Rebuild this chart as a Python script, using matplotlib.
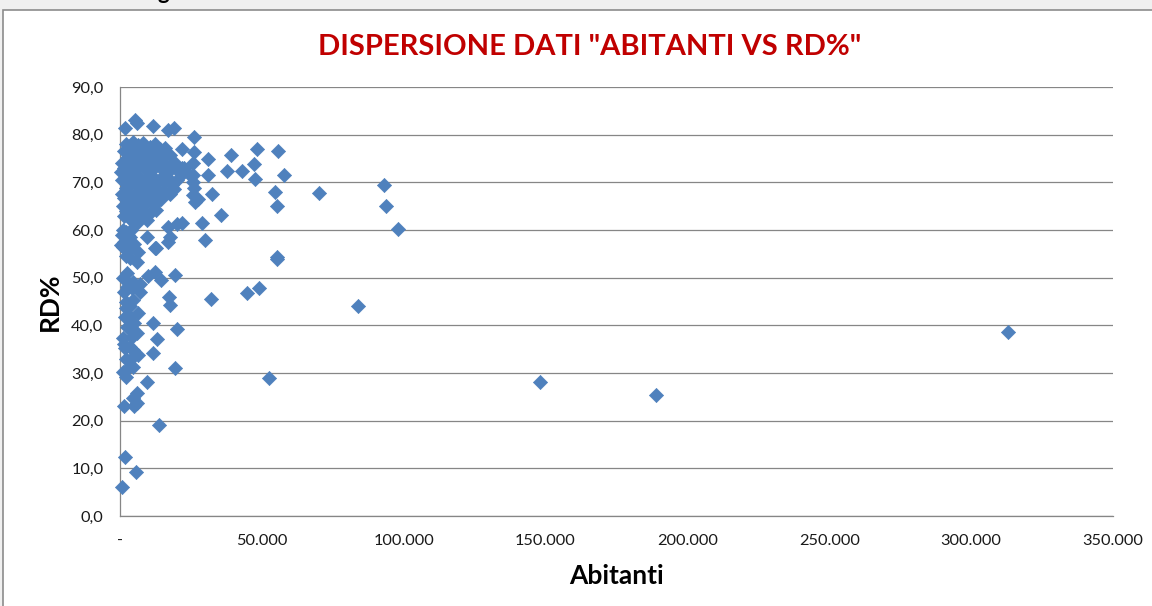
import matplotlib
matplotlib.use("Agg")
import matplotlib.pyplot as plt
from matplotlib.patches import Rectangle

# ---- data (inhabitants, RD%) ----
abitanti_k = [
    # outliers / sparse right part
    313.0, 189.0, 148.0, 83.8, 97.9, 93.0, 93.7, 70.1, 57.7, 55.6, 55.3, 54.6, 55.3,
    52.5, 48.9, 44.7, 48.2, 47.2, 47.5, 43.0, 39.1, 37.7, 35.6, 32.0, 32.4, 31.0,
    31.0, 29.9, 28.9, 26.1, 26.1, 25.7, 25.7, 26.1, 25.7, 26.4, 25.7, 21.8, 21.8,
    22.2, 21.8, 20.1, 19.4, 20.1, 19.4, 19.0, 16.9, 11.6, 5.3, 1.8, 6.0, 16.9, 17.6,
    12.3, 9.5, 2.8, 1.1, 1.8, 55.3, 27.5,
    # lower left
    0.6, 5.6, 1.8, 13.7, 1.4, 6.0, 6.0, 4.6, 9.5, 2.8, 2.1, 4.6, 1.1, 6.3, 11.6,
    4.6, 1.8, 1.1, 4.2, 13.0, 6.0, 2.5, 11.6, 1.8, 6.3, 2.1, 17.6, 17.3, 4.6, 1.4,
    7.0, 4.2, 2.5, 9.9, 12.3, 14.4, 4.6, 7.0, 6.3, 12.7, 16.9, 1.1, 3.5, 6.0,
    1.5, 3.0, 2.0, 3.5, 1.0, 2.5, 3.8, 5.0, 2.0, 4.0, 5.0, 3.6,
    0.8, 2.2, 4.0, 1.5, 3.0, 0.5, 2.0, 5.0, 3.5,
    # dense cluster
    2.0, 4.5, 6.5, 8.0, 10.5, 12.5, 14.0, 3.0, 9.0, 16.0,
    1.5, 3.5, 5.5, 7.0, 8.5, 10.0, 11.5, 13.0, 14.5, 2.5, 6.0, 15.5, 17.5,
    0.8, 1.5, 2.8, 4.0, 5.0, 6.5, 7.8, 9.0, 10.5, 12.0, 13.5, 15.0, 16.5, 18.0,
    19.5, 21.0, 22.5, 24.0, 0.5, 3.3,
    0.8, 1.8, 3.0, 4.2, 5.5, 6.8, 8.0, 9.5, 11.0, 12.5, 14.0, 15.5, 17.0, 18.5,
    20.0, 2.2, 7.2, 10.2, 13.2,
    0.6, 1.5, 2.8, 4.0, 5.2, 6.5, 7.8, 9.0, 10.5, 11.8, 13.0, 14.5, 16.0, 17.5,
    19.0, 3.5, 8.5, 12.2,
    1.0, 2.0, 1.5, 3.0, 4.5, 5.8, 7.0, 8.2, 9.5, 11.0, 12.8, 6.0, 3.8,
]
rd_pct = [
    38.6, 25.4, 28.1, 44.1, 60.2, 69.4, 65.0, 67.8, 71.5, 76.6, 65.0, 68.0, 53.9,
    29.0, 47.8, 46.8, 77.0, 73.8, 70.7, 72.4, 75.7, 72.4, 63.1, 45.5, 67.5, 74.9,
    71.5, 57.9, 61.5, 79.5, 76.4, 74.0, 71.5, 68.8, 67.3, 65.9, 70.1, 77.0, 73.0,
    72.0, 61.5, 61.3, 31.0, 39.2, 50.6, 81.4, 81.0, 81.8, 83.1, 81.4, 82.4, 60.6, 58.5,
    56.2, 58.5, 58.9, 60.0, 56.4, 54.3, 66.5,
    6.1, 9.2, 12.4, 19.1, 23.1, 23.7, 25.8, 24.8, 28.1, 31.0, 29.2, 31.3, 30.2, 33.8, 34.2,
    34.8, 35.2, 37.3, 37.6, 37.1, 38.4, 39.6, 40.5, 41.7, 42.6, 43.6, 44.3, 45.9, 45.3, 47.0,
    47.0, 47.8, 51.0, 50.3, 51.2, 49.5, 49.1, 48.7, 55.4, 56.2, 57.5, 56.4, 54.1, 53.3,
    36.0, 42.0, 45.0, 44.0, 50.0, 48.0, 39.0, 40.5, 33.0, 33.0, 23.0, 35.5,
    59.0, 59.5, 60.0, 57.5, 56.0, 56.8, 54.5, 57.0, 58.5,
    78.0, 78.5, 77.8, 78.2, 77.5, 78.0, 77.0, 77.5, 76.8, 77.2,
    76.5, 76.8, 75.5, 76.2, 75.0, 76.0, 75.5, 76.5, 75.0, 75.2, 77.0, 76.8, 75.8,
    74.0, 73.0, 73.8, 74.2, 72.8, 73.5, 74.0, 72.5, 73.8, 73.0, 74.0, 72.5, 73.5, 72.8,
    74.0, 72.0, 73.0, 72.0, 72.2, 72.0,
    70.5, 71.0, 69.5, 70.8, 69.8, 71.2, 69.5, 70.5, 71.5, 69.8, 70.8, 70.0, 71.0, 69.5,
    70.5, 68.8, 68.5, 69.0, 68.5,
    67.5, 66.8, 67.8, 66.2, 67.5, 66.0, 67.2, 66.5, 67.8, 66.2, 67.0, 66.5, 68.0, 67.5,
    68.5, 65.5, 65.2, 65.5,
    65.0, 64.0, 63.0, 63.5, 64.5, 63.0, 62.5, 64.0, 62.0, 63.8, 64.2, 61.5, 62.0,
]
abitanti = [v * 1000 for v in abitanti_k]

x_ticks = [0, 50000, 100000, 150000, 200000, 250000, 300000, 350000]
x_tick_labels = ["-", "50.000", "100.000", "150.000", "200.000", "250.000", "300.000", "350.000"]
y_ticks = [0, 10, 20, 30, 40, 50, 60, 70, 80, 90]
y_tick_labels = ["0,0", "10,0", "20,0", "30,0", "40,0", "50,0", "60,0", "70,0", "80,0", "90,0"]

title = 'DISPERSIONE DATI "ABITANTI VS RD%"'
x_label = "Abitanti"
y_label = "RD%"

FONT = ["Lato", "DejaVu Sans"]
plt.rcParams["font.family"] = FONT

W, H = 1152, 606
fig = plt.figure(figsize=(W / 100, H / 100), dpi=100)
fig.patch.set_facecolor("#f0f0f0")

# chart frame (drawn beneath the axes)
frame = Rectangle((3 / W, -0.05), 1.2, 1 - 10 / H + 0.05, transform=fig.transFigure,
                  facecolor="white", edgecolor="#8c8c8c", linewidth=1.2, zorder=-10)
fig.patches.append(frame)
# cut-off heading character at the very top (as in the reference)
fig.text(163 / W, 1 + 1 / H, "g", fontsize=16, fontweight="bold", color="black",
         ha="center", va="baseline")

ax = fig.add_axes([120 / W, 1 - 516 / H, (1113 - 120) / W, (516 - 87) / H])
ax.set_zorder(1)
ax.set_facecolor("white")
ax.scatter(abitanti, rd_pct, marker="D", s=52, color="#4F81BD",
           edgecolors="#4F81BD", linewidths=0.5, zorder=3, clip_on=False)

ax.set_xlim(0, 350000)
ax.set_ylim(0, 90)
ax.set_xticks(x_ticks)
ax.set_xticklabels(x_tick_labels)
ax.set_yticks(y_ticks)
ax.set_yticklabels(y_tick_labels)
ax.tick_params(axis="both", length=0, labelsize=11.8, labelcolor="#1a1a1a")
ax.tick_params(axis="y", pad=12)
ax.tick_params(axis="x", pad=13)

ax.grid(axis="y", color="#868686", linewidth=0.9)
ax.set_axisbelow(True)
for s in ["top", "right"]:
    ax.spines[s].set_visible(False)
for s in ["left", "bottom"]:
    ax.spines[s].set_color("#868686")
    ax.spines[s].set_linewidth(0.9)

ax.set_xlabel(x_label, fontsize=19, fontweight="bold", color="black")
ax.set_ylabel(y_label, fontsize=19, fontweight="bold", color="black")
ax.xaxis.set_label_coords(0.5, (516 - 576) / (516 - 87))
ax.yaxis.set_label_coords((50 - 120) / (1113 - 120), 0.5)
ax.xaxis.label.set_va("center")
ax.yaxis.label.set_va("center")

fig.text(590 / W, 1 - 47 / H, title, fontsize=21, fontweight="bold",
         color="#C00000", ha="center", va="center")

fig.savefig("out.png", dpi=100, facecolor=fig.get_facecolor())
